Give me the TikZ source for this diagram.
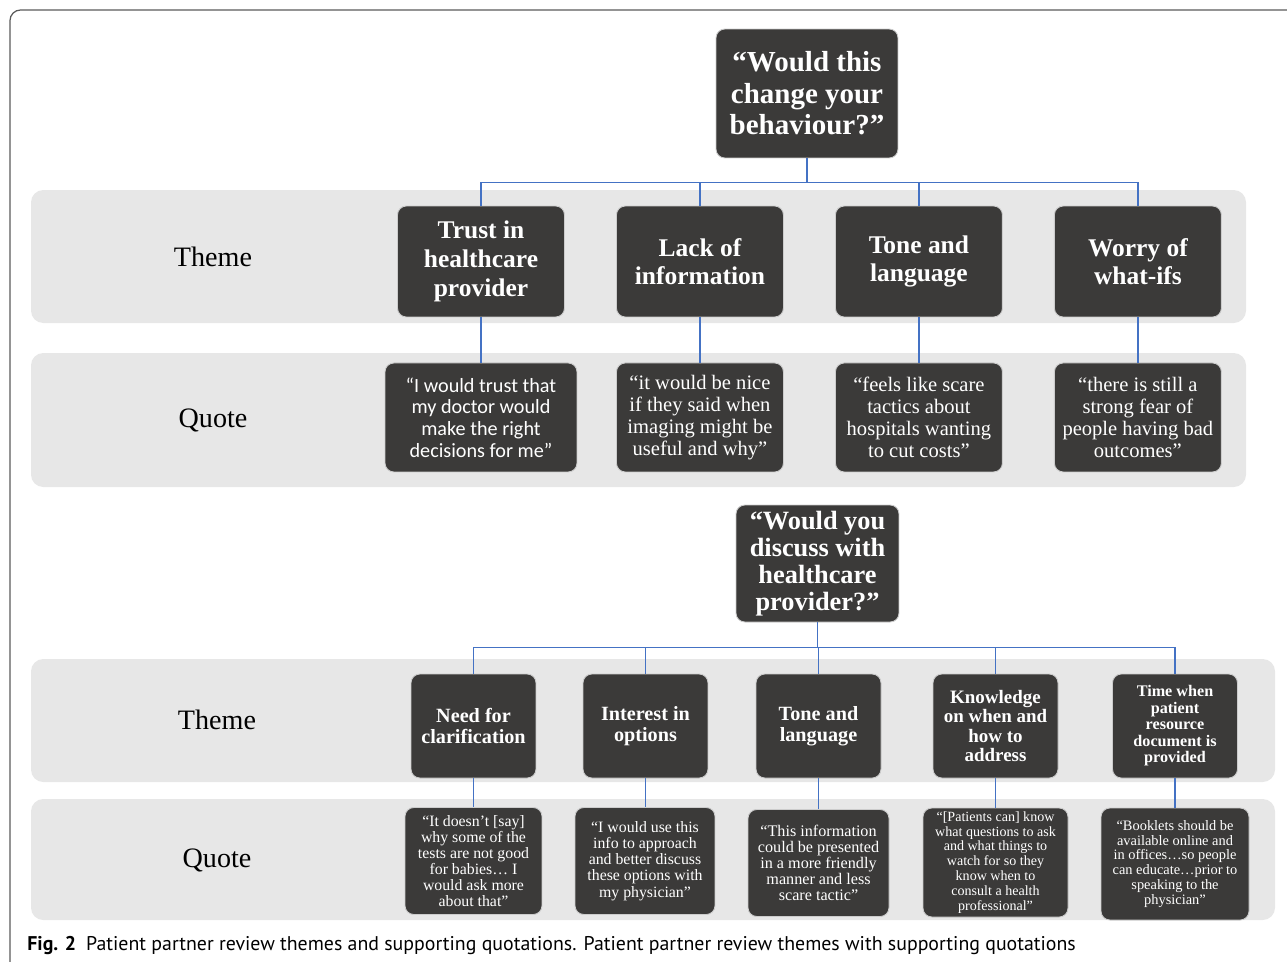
\documentclass[tikz,border=0pt]{standalone}
\usepackage{fontspec}
\setmainfont{Liberation Serif}
\newfontfamily\quotesans{Carlito}
\newfontfamily\capsans{PT Sans}
\definecolor{boxgray}{HTML}{3B3A39}
\definecolor{bandgray}{HTML}{E7E7E7}
\definecolor{linkblue}{HTML}{4472C4}
\definecolor{framegray}{HTML}{5A5A5A}
\def\fs#1#2{\fontsize{#1}{#2}\selectfont}

\begin{document}
\begin{tikzpicture}[x=0.02cm,y=-0.02cm,node distance=4.38cm,
    band/.style={fill=bandgray,rounded corners=7pt},
    dark/.style={fill=boxgray,draw=white!80!black,line width=0.5pt,rounded corners=5pt,
        text=white,align=center,inner sep=0pt},
    theme1/.style={dark,font=\bfseries\fs{14.5}{16.3},minimum width=3.34cm,minimum height=2.22cm},
    quote1/.style={dark,font=\fs{11.7}{12.5},minimum width=3.34cm,minimum height=2.18cm},
    theme2/.style={dark,font=\bfseries\fs{11.5}{12},minimum width=2.5cm,minimum height=2.08cm},
    quote2/.style={dark,font=\fs{9}{9.2},minimum height=2.14cm},
    rowname/.style={font=\fs{16}{18}},
    link/.style={draw=linkblue,line width=0.8pt}]

    \useasboundingbox (0,0) rectangle (1287,961);
    \clip (0,0) rectangle (1287,961);
    \draw[framegray,line width=0.7pt,rounded corners=6pt] (10,1000) -- (10,10) -- (1320,10);

    % grey bands
    \fill[band] (31,190) rectangle (1246,323);
    \fill[band] (31,353) rectangle (1246,487);
    \fill[band] (31,659) rectangle (1275,782);
    \fill[band] (31,799) rectangle (1275,920);

    \node[rowname] (th1) at (213,257) {Theme};
    \node[rowname] (qu1) at (213,420) {Quote};
    \node[rowname] (th2) at (217,720) {Theme};
    \node[rowname] (qu2) at (217,860) {Quote};

    % first question
    \node[dark,font=\bfseries\fs{16.5}{18},minimum width=3.64cm,minimum height=2.58cm] (ask1) at (807,93.5)
        {“Would this\\change your\\behaviour?”};

    \node[theme1] (trust) at (481,261.5) {Trust in\\healthcare\\provider};
    \node[theme1,right of=trust] (lack) {Lack of\\information};
    \node[theme1,right of=lack] (tone) {Tone and\\language};
    \node[theme1,right of=tone] (worry) {Worry of\\what-ifs};

    \node[quote1,below of=trust,node distance=3.12cm,minimum width=3.84cm,font=\quotesans\fs{11.5}{12.3}] (qtrust)
        {“I would trust that\\my doctor would\\make the right\\decisions for me”};
    \node[quote1,below of=lack,node distance=3.12cm] (qlack)
        {“it would be nice\\if they said when\\imaging might be\\useful and why”};
    \node[quote1,below of=tone,node distance=3.12cm] (qtone)
        {“feels like scare\\tactics about\\hospitals wanting\\to cut costs”};
    \node[quote1,below of=worry,node distance=3.12cm] (qworry)
        {“there is still a\\strong fear of\\people having bad\\outcomes”};

    \foreach \t in {trust,lack,tone,worry}
        \draw[link] (ask1.south) -- ++(0,24) -| (\t.north);
    \foreach \t/\q in {trust/qtrust,lack/qlack,tone/qtone,worry/qworry}
        \draw[link] (\t.south) -- (\t.south |- \q.north);

    % second question
    \node[dark,font=\bfseries\fs{15}{15.5},minimum width=3.26cm,minimum height=2.34cm] (ask2) at (817.5,563.5)
        {“Would you\\discuss with\\healthcare\\provider?”};

    \node[theme2] (need) at (473.5,726) {Need for\\clarification};
    \node[theme2] (interest) at (645.5,726) {Interest in\\options};
    \node[theme2] (tone2) at (818.5,726) {Tone and\\language};
    \node[theme2,font=\bfseries\fs{10.8}{11}] (know) at (995.5,726) {Knowledge\\on when and\\how to\\address};
    \node[theme2,font=\bfseries\fs{9.2}{9.4}] (time) at (1175,726) {Time when\\patient\\resource\\document is\\provided};

    \node[quote2,minimum width=2.74cm] (qneed) at (473.5,861)
        {“It doesn’t [say]\\why some of the\\tests are not good\\for babies… I\\would ask more\\about that”};
    \node[quote2,minimum width=2.8cm] (qinterest) at (645,861)
        {“I would use this\\info to approach\\and better discuss\\these options with\\my physician”};
    \node[quote2,minimum width=2.82cm,font=\fs{9.2}{9.2}] (qtone2) at (818.5,863)
        {“This information\\could be presented\\in a more friendly\\manner and less\\scare tactic”};
    \node[quote2,minimum width=2.9cm,minimum height=2.18cm,font=\fs{8}{8.5}] (qknow) at (995.5,862.5)
        {“[Patients can] know\\what questions to ask\\and what things to\\watch for so they\\know when to\\consult a health\\professional”};
    \node[quote2,minimum width=2.96cm,minimum height=2.24cm,font=\fs{8.2}{8.5}] (qtime) at (1175,864)
        {“Booklets should be\\available online and\\in offices…so people\\can educate…prior to\\speaking to the\\physician”};

    \foreach \t in {need,interest,tone2,know,time}
        \draw[link] (ask2.south) -- ++(0,25) -| (\t.north);
    \foreach \t/\q in {need/qneed,interest/qinterest,tone2/qtone2,know/qknow,time/qtime}
        \draw[link] (\t.south) -- (\t.south |- \q.north);

    % caption
    \node[anchor=west,inner sep=0pt,font=\capsans\fs{11.3}{13}] (cap) at (27,945)
        {\textbf{Fig. 2}\enspace Patient partner review themes and supporting quotations. Patient partner review themes with supporting quotations};
\end{tikzpicture}
\end{document}
